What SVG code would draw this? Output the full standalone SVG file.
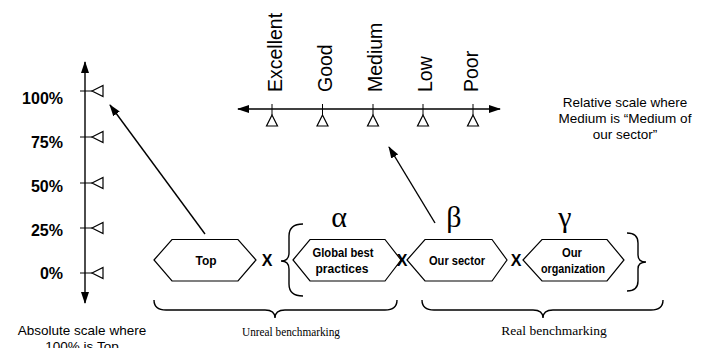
<svg xmlns="http://www.w3.org/2000/svg" width="703" height="348" viewBox="0 0 703 348">
<style>
  .ln{stroke:#000;stroke-width:1.4;fill:none}
  .thin{stroke:#000;stroke-width:1;fill:none}
  .tri{stroke:#000;stroke-width:1.2;fill:#fff}
  .hex{stroke:#000;stroke-width:1.2;fill:#fff}
  .pct{font-family:"Liberation Sans",Arial,sans-serif;font-weight:bold;font-size:16px;text-anchor:end}
  .scale{font-family:"Liberation Sans",Arial,sans-serif;font-size:19.5px}
  .note{font-family:"Liberation Sans",Arial,sans-serif;font-size:13.5px;text-anchor:middle}
  .hx{font-family:"Liberation Sans",Arial,sans-serif;font-weight:bold;font-size:12.5px;text-anchor:middle}
  .x{font-family:"Liberation Sans",Arial,sans-serif;font-weight:bold;font-size:16px;text-anchor:middle}
  .greek{font-family:"Liberation Serif","Times New Roman",serif;font-size:30px;text-anchor:middle}
  .serif{font-family:"Liberation Serif","Times New Roman",serif;font-size:13.5px;text-anchor:middle}
</style>
<defs>
  <marker id="ah" markerUnits="userSpaceOnUse" markerWidth="12" markerHeight="9" refX="11" refY="4" orient="auto-start-reverse" viewBox="0 0 12 8">
    <path d="M0,0 L12,4 L0,8 z" fill="#000"/>
  </marker>
</defs>

<!-- Absolute vertical scale -->
<g id="absolute-scale">
  <line class="ln" x1="85" y1="303" x2="85" y2="62" marker-start="url(#ah)" marker-end="url(#ah)"/>
  <g class="thin">
    <line x1="80" y1="91" x2="92" y2="91"/>
    <line x1="80" y1="137" x2="92" y2="137"/>
    <line x1="80" y1="183" x2="92" y2="183"/>
    <line x1="80" y1="228" x2="92" y2="228"/>
    <line x1="80" y1="273" x2="92" y2="273"/>
  </g>
  <polygon class="tri" points="92,91 103,85.5 103,96.5"/>
  <polygon class="tri" points="92,137 103,131.5 103,142.5"/>
  <polygon class="tri" points="92,183 103,177.5 103,188.5"/>
  <polygon class="tri" points="92,228 103,222.5 103,233.5"/>
  <polygon class="tri" points="92,273 103,267.5 103,278.5"/>
  <text class="pct" x="63" y="104">100%</text>
  <text class="pct" x="63" y="148">75%</text>
  <text class="pct" x="63" y="192">50%</text>
  <text class="pct" x="63" y="236">25%</text>
  <text class="pct" x="63" y="279">0%</text>
  <text class="note" x="82" y="335">Absolute scale where</text>
  <text class="note" x="82" y="351">100% is Top</text>
</g>

<!-- Relative horizontal scale -->
<g id="relative-scale">
  <line class="ln" x1="238" y1="109" x2="500" y2="109" marker-start="url(#ah)" marker-end="url(#ah)"/>
  <g class="thin">
    <line x1="272" y1="104" x2="272" y2="115"/>
    <line x1="322.5" y1="104" x2="322.5" y2="115"/>
    <line x1="373" y1="104" x2="373" y2="115"/>
    <line x1="423" y1="104" x2="423" y2="115"/>
    <line x1="473" y1="104" x2="473" y2="115"/>
  </g>
  <polygon class="tri" points="272,115 266.5,126 277.5,126"/>
  <polygon class="tri" points="322.5,115 317,126 328,126"/>
  <polygon class="tri" points="373,115 367.5,126 378.5,126"/>
  <polygon class="tri" points="423,115 417.5,126 428.5,126"/>
  <polygon class="tri" points="473,115 467.5,126 478.5,126"/>
  <text class="scale" transform="translate(281.5,92) rotate(-90)">Excellent</text>
  <text class="scale" transform="translate(332,92) rotate(-90)">Good</text>
  <text class="scale" transform="translate(382,92) rotate(-90)">Medium</text>
  <text class="scale" transform="translate(431.5,92) rotate(-90)">Low</text>
  <text class="scale" transform="translate(478,92) rotate(-90)">Poor</text>
  <text class="note" x="625" y="107">Relative scale where</text>
  <text class="note" x="625" y="123">Medium is “Medium of</text>
  <text class="note" x="625" y="139">our sector”</text>
</g>

<!-- Nodes -->
<g id="node-top">
  <polygon class="hex" points="154,260 172,239.5 238,239.5 256,260 238,281 172,281"/>
  <text class="hx" x="206" y="265" textLength="21" lengthAdjust="spacingAndGlyphs">Top</text>
</g>
<g id="node-global">
  <polygon class="hex" points="293,260 310,239.5 385,239.5 401,260 385,281 310,281"/>
  <text class="hx" x="343" y="257" textLength="61" lengthAdjust="spacingAndGlyphs">Global best</text>
  <text class="hx" x="342" y="273" textLength="53" lengthAdjust="spacingAndGlyphs">practices</text>
</g>
<g id="node-sector">
  <polygon class="hex" points="407,260 425,239.5 492,239.5 507,260 492,281 425,281"/>
  <text class="hx" x="457" y="265" textLength="56" lengthAdjust="spacingAndGlyphs">Our sector</text>
</g>
<g id="node-organization">
  <polygon class="hex" points="523,260 542,239.5 607,239.5 624,260 607,281 542,281"/>
  <text class="hx" x="572" y="257" textLength="20" lengthAdjust="spacingAndGlyphs">Our</text>
  <text class="hx" x="573" y="273" textLength="64" lengthAdjust="spacingAndGlyphs">organization</text>
</g>

<!-- Operators, braces and labels -->
<g id="operators">
  <text class="x" x="267" y="266">X</text>
  <text class="x" x="402" y="266">X</text>
  <text class="x" x="516" y="266">X</text>
  <text class="greek" x="339" y="227">α</text>
  <text class="greek" x="454" y="227">β</text>
  <text class="greek" x="565" y="227">γ</text>
</g>
<g id="braces">
  <path class="ln" d="M303,224 Q289,224 289,236 L289,253 Q289,261 281,261 Q289,261 289,269 L289,284 Q289,296 303,296"/>
  <path class="ln" d="M627,233 Q638,233 638,243 L638,255 Q638,262 646,262 Q638,262 638,269 L638,281 Q638,291 627,291"/>
  <path class="ln" d="M154,300 Q154,310 166,310 L265,310 Q275,310 275,318 Q275,310 285,310 L385,310 Q397,310 397,300"/>
  <path class="ln" d="M422,300 Q422,310 434,310 L533,310 Q543,310 543,318 Q543,310 553,310 L651,310 Q663,310 663,300"/>
  <text class="serif" x="291" y="336" textLength="98" lengthAdjust="spacingAndGlyphs">Unreal benchmarking</text>
  <text class="serif" x="554" y="335">Real benchmarking</text>
</g>

<!-- Connectors -->
<g id="connectors">
  <line class="ln" x1="205" y1="234" x2="110" y2="105" marker-end="url(#ah)"/>
  <line class="ln" x1="435" y1="223" x2="389" y2="147" marker-end="url(#ah)"/>
</g>
</svg>
